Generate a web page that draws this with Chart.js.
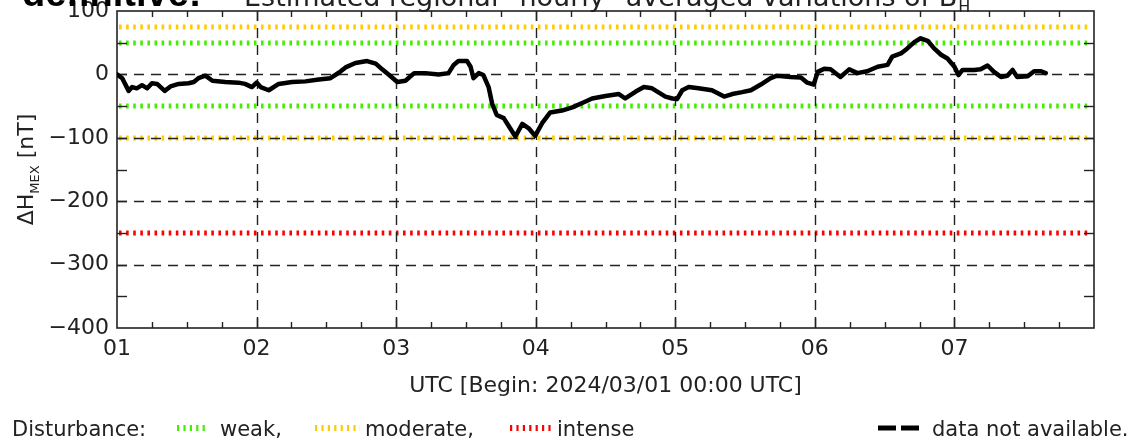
<!DOCTYPE html>
<html>
<head>
<meta charset="utf-8">
<script src="https://cdn.jsdelivr.net/npm/chart.js@4/dist/chart.umd.min.js"></script>
<style>
  html, body { margin: 0; padding: 0; background: #fff; }
  #wrap { width: 1129px; height: 440px; position: relative; }
</style>
</head>
<body>
<div id="wrap"><canvas id="c" width="1129" height="440"></canvas></div>
<script>
// ---- data (hours since 2024/03/01 00:00 UTC, nT) ----
const hours = [0, 0.9, 2, 2.6, 3.4, 4.3, 5.2, 6, 6.9, 8.2, 9.2, 10.6, 12.3, 13.2, 14, 15.2, 16.4, 18.6, 20.9, 22, 23.2,
  24, 24.7, 26.1, 27.8, 30.1, 32.4, 34.7, 36.7, 38.2, 39.3, 41, 43, 44.5, 45.6, 46.8,
  48.2, 49.6, 51.1, 53, 55.3, 57, 57.9, 58.7, 60.2, 60.8, 61.3, 62.2, 63, 63.9, 64.5, 65.3, 66.5, 67.6, 68.5, 69.7, 70.8,
  71.9, 73.1, 74.5, 76.5, 78.3, 80, 81.7, 84, 86.3, 87.4, 89.2, 90.6, 92, 94.3, 95.5,
  96.3, 97.2, 98.3, 100, 102.3, 104.4, 105.8, 107.5, 109, 110.7, 112.4, 113.5, 115.8, 117.6, 118.7, 119.8,
  120.5, 121.6, 122.7, 124.4, 125.9, 127.3, 129, 130.8, 132.5, 133.3, 134.8, 135.9, 137.1, 138.2, 139.4, 140.5, 141.7, 142.8,
  144, 144.7, 145.4, 147.4, 148.5, 149.7, 150.8, 152, 153.1, 154, 154.8, 156.6, 157.7, 158.9, 159.7];
const deltaH = [0, -6, -26, -20, -22, -17, -22, -14, -15, -26, -19, -15, -14, -12, -6, -2, -10, -12, -13, -15, -20,
  -13, -20, -25, -15, -12, -11, -8, -6, 3, 11, 18, 21, 17, 8, -1,
  -12, -10, 2, 2, 0, 2, 15, 21, 21, 12, -6, 2, -1, -20, -46, -64, -69, -85, -98, -78, -85,
  -97, -77, -60, -57, -52, -45, -38, -34, -31, -38, -27, -20, -22, -35, -38,
  -39, -25, -20, -22, -25, -35, -31, -28, -25, -16, -6, -2, -4, -5, -13, -16,
  4, 9, 8, -4, 8, 2, 5, 12, 15, 28, 33, 41, 51, 57, 53, 41, 31, 25,
  12, -1, 7, 7, 8, 14, 4, -4, -2, 7, -4, -3, 5, 5, 2];
const dayLabels = ['01', '02', '03', '04', '05', '06', '07'];
const weakLevels = [50, -50];
const moderateLevels = [75, -100];
const intenseLevels = [-250];
const gridLevels = [0, -100, -200, -300];

const FONT = "'DejaVu Sans', sans-serif";
const INK = '#222';

function hLine(ctx, x0, x1, y) { ctx.beginPath(); ctx.moveTo(x0, y); ctx.lineTo(x1, y); ctx.stroke(); }
function vLine(ctx, x, y0, y1) { ctx.beginPath(); ctx.moveTo(x, y0); ctx.lineTo(x, y1); ctx.stroke(); }

const deco = {
  id: 'deco',
  beforeDatasetsDraw(chart) {
    const { ctx, chartArea: a, scales: { x, y } } = chart;
    ctx.save();
    // disturbance levels
    const lvl = (levels, color) => {
      ctx.strokeStyle = color; ctx.lineWidth = 5; ctx.lineCap = 'butt'; ctx.setLineDash([2.6, 4.5]);
      levels.forEach(v => hLine(ctx, a.left + 2, a.right - 3, Math.round(y.getPixelForValue(v))));
    };
    lvl(weakLevels, '#44ee00');
    lvl(moderateLevels, '#ffcc00');
    lvl(intenseLevels, '#ff0000');
    // dashed grid
    ctx.strokeStyle = '#222'; ctx.lineWidth = 1.4; ctx.setLineDash([10, 7]);
    gridLevels.forEach(v => hLine(ctx, a.left, a.right, Math.round(y.getPixelForValue(v)) + 0.5));
    for (let h = 24; h < 168; h += 24) vLine(ctx, Math.round(x.getPixelForValue(h)) + 0.5, a.top, a.bottom);
    ctx.setLineDash([]);
    // minor ticks
    ctx.lineWidth = 1.4;
    for (let h = 6; h < 168; h += 6) {
      const px = Math.round(x.getPixelForValue(h)) + 0.5;
      const L = h % 24 === 0 ? 10 : 6;
      vLine(ctx, px, a.bottom, a.bottom - L);
      vLine(ctx, px, a.top, a.top + L);
    }
    for (let v = 50; v > -400; v -= 50) {
      const py = Math.round(y.getPixelForValue(v)) + 0.5;
      hLine(ctx, a.left, a.left + 10, py);
      hLine(ctx, a.right, a.right - 10, py);
    }
    // frame
    ctx.strokeStyle = '#222'; ctx.lineWidth = 1.6;
    ctx.strokeRect(a.left, a.top, a.right - a.left, a.bottom - a.top);
    ctx.restore();
  },
  afterDraw(chart) {
    const { ctx, chartArea: a } = chart;
    ctx.save();
    ctx.fillStyle = '#000';
    ctx.textBaseline = 'alphabetic';
    // title (clipped at top)
    ctx.font = "bold 38px 'Liberation Sans', sans-serif";
    ctx.fillText('definitive:', 22, 6);
    ctx.fillStyle = INK;
    ctx.font = '27px ' + FONT;
    const t = 'Estimated regional "hourly" averaged variations of B';
    ctx.fillText(t, 244, 6);
    const w = ctx.measureText(t).width;
    ctx.font = '16px ' + FONT;
    ctx.fillText('H', 244 + w + 1, 12);
    // y axis title (rotated)
    ctx.save();
    ctx.translate(33, (a.top + a.bottom) / 2);
    ctx.rotate(-Math.PI / 2);
    ctx.font = '22px ' + FONT;
    const p1 = 'ΔH', p2 = 'MEX', p3 = ' [nT]';
    const w1 = ctx.measureText(p1).width;
    ctx.font = '13px ' + FONT; const w2 = ctx.measureText(p2).width;
    ctx.font = '22px ' + FONT; const w3 = ctx.measureText(p3).width;
    let sx = -(w1 + w2 + w3) / 2;
    ctx.fillText(p1, sx, 0);
    ctx.font = '13px ' + FONT; ctx.fillText(p2, sx + w1, 6);
    ctx.font = '22px ' + FONT; ctx.fillText(p3, sx + w1 + w2, 0);
    ctx.restore();
    // x axis title
    ctx.font = '22px ' + FONT;
    ctx.textAlign = 'center';
    ctx.fillText('UTC [Begin: 2024/03/01 00:00 UTC]', (a.left + a.right) / 2, 392);
    // legend
    ctx.textAlign = 'left';
    ctx.font = '21px ' + FONT;
    const ly = 436;
    ctx.fillText('Disturbance:', 12, ly);
    ctx.fillText('weak,', 220, ly);
    ctx.fillText('moderate,', 365, ly);
    ctx.fillText('intense', 557, ly);
    ctx.fillText('data not available.', 932, ly);
    const sample = (x0, x1, color) => {
      ctx.strokeStyle = color; ctx.lineWidth = 6; ctx.setLineDash([2.2, 4.2]);
      hLine(ctx, x0, x1, ly - 8);
    };
    sample(177, 208, '#44ee00');
    sample(315, 360, '#ffcc00');
    sample(510, 553, '#ff0000');
    ctx.strokeStyle = '#000'; ctx.lineWidth = 5; ctx.setLineDash([18, 5]);
    hLine(ctx, 878, 919, ly - 8);
    ctx.restore();
  }
};

function noPad(s) { s.paddingTop = 0; s.paddingBottom = 0; s.paddingLeft = 0; s.paddingRight = 0; }

new Chart(document.getElementById('c'), {
  type: 'line',
  data: {
    datasets: [{
      data: hours.map((h, i) => ({ x: h, y: deltaH[i] })),
      borderColor: '#000', borderWidth: 4.5, pointRadius: 0, tension: 0, fill: false,
      borderJoinStyle: 'round', borderCapStyle: 'round'
    }]
  },
  options: {
    responsive: false, animation: false, devicePixelRatio: 1,
    layout: { padding: { top: 11, right: 35, left: 0, bottom: 0 } },
    plugins: { legend: { display: false }, tooltip: { enabled: false } },
    scales: {
      x: {
        type: 'linear', min: 0, max: 168,
        afterFit(s) { s.height = 112; noPad(s); },
        ticks: {
          stepSize: 24, autoSkip: false, maxRotation: 0, padding: 8,
          color: INK, font: { family: FONT, size: 22 },
          callback: v => dayLabels[v / 24] ?? ''
        },
        grid: { display: false, drawTicks: false }, border: { display: false }
      },
      y: {
        min: -400, max: 100,
        afterFit(s) { s.width = 117; noPad(s); },
        ticks: {
          stepSize: 100, padding: 8, color: INK, font: { family: FONT, size: 22 },
          callback: v => (v < 0 ? '\u2212' + Math.abs(v) : String(v))
        },
        grid: { display: false, drawTicks: false }, border: { display: false }
      }
    }
  },
  plugins: [deco]
});
</script>
</body>
</html>
